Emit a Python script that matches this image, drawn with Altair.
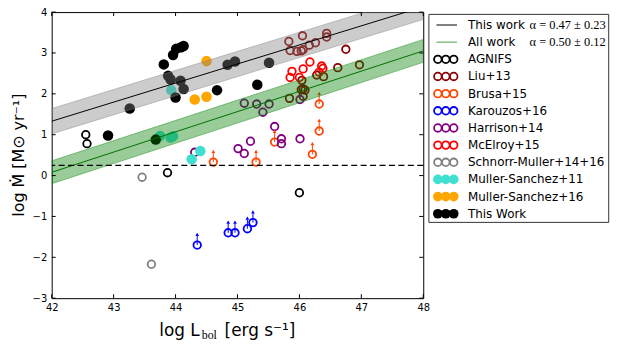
import altair as alt
import pandas as pd

# ---------------- data ----------------
groups = ["AGNIFS", "Liu+13", "Brusa+15", "Karouzos+16", "Harrison+14",
          "McElroy+15", "Schnorr-Muller+14+16", "Muller-Sanchez+11",
          "Muller-Sanchez+16", "This Work"]
colors = ["#000000", "#8b0000", "#ff4500", "#0000ff", "#800080",
          "#ff0000", "#808080", "#40e0d0", "#ffa500", "#000000"]
open_groups = groups[:7]
filled_groups = groups[7:]
arrow_groups = ["Brusa+15", "Karouzos+16"]

agnifs_x = [42.55, 42.57, 43.87, 46.00]
agnifs_y = [1.00, 0.78, 0.07, -0.42]

liu_x = [45.83, 46.05, 46.44, 46.44, 45.85, 45.96, 46.03, 46.06, 46.16, 46.26,
         46.75, 46.97, 46.62, 46.39, 46.28, 46.04, 46.06, 46.03, 46.09, 46.06, 45.84]
liu_y = [3.28, 3.42, 3.48, 3.39, 3.06, 3.04, 3.05, 3.08, 3.19, 3.25,
         3.09, 2.71, 2.64, 2.42, 2.46, 2.33, 2.12, 2.10, 2.09, 1.94, 1.89]

brusa_x = [44.61, 45.30, 45.60, 46.32, 46.32, 46.21]
brusa_y = [0.33, 0.33, 0.82, 1.75, 1.09, 0.52]

karouzos_x = [44.35, 44.85, 44.96, 45.16, 45.25]
karouzos_y = [-1.70, -1.40, -1.40, -1.30, -1.15]

harrison_x = [45.11, 45.31, 45.51, 45.41, 45.60, 45.71, 45.71, 45.21, 45.01,
              45.11, 44.31, 46.01, 46.01]
harrison_y = [1.77, 1.75, 1.75, 1.55, 1.20, 0.90, 0.78, 0.84, 0.66,
              0.54, 0.57, 0.90, 1.86]

mcelroy_x = [46.17, 46.06, 45.88, 45.85, 46.00, 46.36, 46.38, 46.32]
mcelroy_y = [2.78, 2.61, 2.55, 2.40, 2.40, 2.68, 2.62, 2.53]

schnorr_x = [43.46, 43.61]
schnorr_y = [-0.04, -2.17]

ms11_x = [43.93, 43.75, 43.92, 43.96, 44.26, 44.40]
ms11_y = [2.09, 0.97, 0.93, 0.96, 0.40, 0.60]

ms16_x = [44.50, 44.31, 44.50]
ms16_y = [2.80, 1.86, 1.93]

thiswork_x = [42.91, 43.26, 43.81, 43.96, 44.01, 44.09, 44.13, 43.88, 43.92,
              44.08, 44.13, 44.00, 44.67, 44.84, 44.96, 45.51, 45.32, 43.68]
thiswork_y = [0.98, 1.64, 2.72, 2.95, 3.10, 3.14, 3.17, 2.44, 2.35,
              2.32, 2.12, 1.91, 2.09, 2.71, 2.79, 2.76, 2.22, 0.88]

# fit lines (end points at x = 42 and 48) with their uncertainty bands
fit_x = [42, 48]
this_fit = [1.33, 4.13]
this_lo = [1.02, 3.82]
this_hi = [1.64, 4.44]
all_fit = [0.08, 3.05]
all_lo = [-0.20, 2.77]
all_hi = [0.36, 3.33]
threshold_y = [0.25]

x_ticks = [42, 43, 44, 45, 46, 47, 48]
y_ticks = [-3, -2, -1, 0, 1, 2, 3, 4]

legend_fit_labels = ["This work", "All work"]
legend_fit_math = ["α = 0.47 ± 0.23", "α = 0.50 ± 0.12"]

# ---------------- tables ----------------
series = [(agnifs_x, agnifs_y), (liu_x, liu_y), (brusa_x, brusa_y),
          (karouzos_x, karouzos_y), (harrison_x, harrison_y),
          (mcelroy_x, mcelroy_y), (schnorr_x, schnorr_y), (ms11_x, ms11_y),
          (ms16_x, ms16_y), (thiswork_x, thiswork_y)]
rows = []
for g, (xs_, ys_) in zip(groups, series):
    for a, b in zip(xs_, ys_):
        rows.append({"group": g, "x": a, "y": b})
pts = pd.DataFrame(rows)

fits = pd.DataFrame({"x": fit_x, "this_y": this_fit, "this_lo": this_lo,
                     "this_hi": this_hi, "all_y": all_fit, "all_lo": all_lo,
                     "all_hi": all_hi})

W, H = 374, 288
xs = alt.Scale(domain=[42, 48], nice=False, zero=False)
ys = alt.Scale(domain=[-3, 4], nice=False, zero=False)
xaxis = alt.Axis(values=x_ticks, title=None, format="d")
yaxis = alt.Axis(values=y_ticks, title=None, format="d")
color = alt.Color("group:N", scale=alt.Scale(domain=groups, range=colors), legend=None)

X = lambda f: alt.X(f, scale=xs, axis=xaxis)
Y = lambda f: alt.Y(f, scale=ys, axis=yaxis)

OPEN_SIZE = 58
FILLED_SIZE = 112

base = alt.Chart(pts)
open_pts = base.transform_filter(
    alt.FieldOneOfPredicate(field="group", oneOf=open_groups)
).mark_point(shape="circle", filled=False, size=OPEN_SIZE, strokeWidth=1.8, opacity=1).encode(
    x=X("x:Q"), y=Y("y:Q"), color=color)

filled_pts = base.transform_filter(
    alt.FieldOneOfPredicate(field="group", oneOf=filled_groups)
).mark_circle(size=FILLED_SIZE, opacity=1).encode(x=X("x:Q"), y=Y("y:Q"), color=color)

arr = base.transform_filter(
    alt.FieldOneOfPredicate(field="group", oneOf=arrow_groups)
).transform_calculate(ytop="datum.y + 0.23", yhead="datum.y + 0.26")
arrow_shaft = arr.mark_rule(strokeWidth=1).encode(
    x=X("x:Q"), y=Y("y:Q"), y2="ytop:Q", color=color)
arrow_head = arr.mark_point(shape="triangle-up", filled=True, size=14, opacity=1).encode(
    x=X("x:Q"), y=Y("yhead:Q"), color=color)

fb = alt.Chart(fits)
gray_band = fb.mark_area(clip=True, fill="#808080", fillOpacity=0.4, stroke="#808080",
                         strokeOpacity=0.4, strokeWidth=1).encode(
    x=X("x:Q"), y=Y("this_lo:Q"), y2="this_hi:Q")
green_band = fb.mark_area(clip=True, fill="#008000", fillOpacity=0.4, stroke="#008000",
                          strokeOpacity=0.4, strokeWidth=1).encode(
    x=X("x:Q"), y=Y("all_lo:Q"), y2="all_hi:Q")
this_line = fb.mark_line(clip=True, color="black", strokeWidth=1).encode(
    x=X("x:Q"), y=Y("this_y:Q"))
all_line = fb.mark_line(clip=True, color="#007000", strokeWidth=1).encode(
    x=X("x:Q"), y=Y("all_y:Q"))
dashed = alt.Chart(pd.DataFrame({"y": threshold_y})).mark_rule(
    color="black", strokeWidth=1.2, strokeDash=[6, 3.5]).encode(y=Y("y:Q"))

xt = alt.Chart(pd.DataFrame({"t": x_ticks}))
yt = alt.Chart(pd.DataFrame({"t": y_ticks}))
tick_b = xt.mark_rule(color="black").encode(x=X("t:Q"), y=alt.value(H), y2=alt.value(H - 4))
tick_t = xt.mark_rule(color="black").encode(x=X("t:Q"), y=alt.value(0), y2=alt.value(4))
tick_l = yt.mark_rule(color="black").encode(y=Y("t:Q"), x=alt.value(0), x2=alt.value(4))
tick_r = yt.mark_rule(color="black").encode(y=Y("t:Q"), x=alt.value(W), x2=alt.value(W - 4))

plot = alt.layer(open_pts, filled_pts, arrow_shaft, arrow_head, gray_band, green_band,
                 this_line, all_line, dashed, tick_b, tick_t, tick_l, tick_r)

# ---------------- legend ----------------
ly = alt.Scale(domain=[0, 11], range=[13, 203], nice=False, zero=False)
one = alt.Chart(pd.DataFrame({"a": [0]}))
box = one.mark_rect(fill="white", stroke="#333333", strokeWidth=1).encode(
    x=alt.value(379.7), x2=alt.value(560.7), y=alt.value(2.3), y2=alt.value(211.7))

fit_leg = alt.Chart(pd.DataFrame({"row": [0, 1], "label": legend_fit_labels,
                                  "math": legend_fit_math}))
leg_line_black = fit_leg.transform_filter("datum.row == 0").mark_rule(
    color="black", strokeWidth=1).encode(
    y=alt.Y("row:Q", scale=ly, axis=None), x=alt.value(387.3), x2=alt.value(408))
leg_line_green = fit_leg.transform_filter("datum.row == 1").mark_rule(
    color="#008000", strokeWidth=1.2, opacity=0.6).encode(
    y=alt.Y("row:Q", scale=ly, axis=None), x=alt.value(387.3), x2=alt.value(408))
leg_fit_text = fit_leg.mark_text(align="left", baseline="middle", font="DejaVu Sans",
                                 fontSize=12, color="black").encode(
    y=alt.Y("row:Q", scale=ly, axis=None), x=alt.value(419), text="label:N")
leg_fit_math = fit_leg.mark_text(align="left", baseline="middle", font="Liberation Serif",
                                 fontSize=12.5, color="black").encode(
    y=alt.Y("row:Q", scale=ly, axis=None), x=alt.value(481), text="math:N")

grp_leg = alt.Chart(pd.DataFrame({"group": groups, "row": list(range(2, 12))}))
leg_layers = []
for cx in [388.7, 396.7, 404.7]:
    leg_layers.append(grp_leg.transform_filter(
        alt.FieldOneOfPredicate(field="group", oneOf=open_groups)
    ).mark_point(shape="circle", filled=False, size=OPEN_SIZE, strokeWidth=1.8, opacity=1).encode(
        y=alt.Y("row:Q", scale=ly, axis=None), x=alt.value(cx), color=color))
    leg_layers.append(grp_leg.transform_filter(
        alt.FieldOneOfPredicate(field="group", oneOf=filled_groups)
    ).mark_circle(size=95, opacity=1).encode(
        y=alt.Y("row:Q", scale=ly, axis=None), x=alt.value(cx), color=color))
leg_grp_text = grp_leg.mark_text(align="left", baseline="middle", font="DejaVu Sans",
                                 fontSize=12, color="black").encode(
    y=alt.Y("row:Q", scale=ly, axis=None), x=alt.value(419), text="group:N")

# ---------------- axis titles ----------------
ytitle = one.mark_text(angle=270, align="center", baseline="middle", font="DejaVu Sans",
                       fontSize=16, color="black").encode(
    x=alt.value(-33), y=alt.value(144), text=alt.value("log Ṁ [M⊙ yr⁻¹]"))
xt1 = one.mark_text(align="right", baseline="alphabetic", font="DejaVu Sans",
                    fontSize=17, color="black").encode(
    x=alt.value(149), y=alt.value(326), text=alt.value("log L"))
xt2 = one.mark_text(align="left", baseline="alphabetic", font="Liberation Serif",
                    fontSize=12, color="black").encode(
    x=alt.value(151), y=alt.value(329), text=alt.value("bol"))
xt3 = one.mark_text(align="left", baseline="alphabetic", font="DejaVu Sans",
                    fontSize=17, color="black").encode(
    x=alt.value(174), y=alt.value(326), text=alt.value("[erg s⁻¹]"))

chart = alt.layer(
    plot, box, leg_line_black, leg_line_green, leg_fit_text, leg_fit_math,
    *leg_layers, leg_grp_text, ytitle, xt1, xt2, xt3
).resolve_scale(y="independent").properties(
    width=W, height=H,
    padding={"left": 44, "top": 3, "right": 188, "bottom": 44},
    autosize=alt.AutoSizeParams(type="none"),
).configure_view(stroke="black", strokeWidth=1).configure_axis(
    labelFont="DejaVu Sans", labelFontSize=10, labelColor="black", ticks=False,
    tickSize=0, domain=False, grid=False, labelFlush=False, labelOverlap=False
).configure_axisX(labelPadding=4).configure_axisY(labelPadding=5)

chart.save("out.html", embed_options={"renderer": "svg", "actions": False})
